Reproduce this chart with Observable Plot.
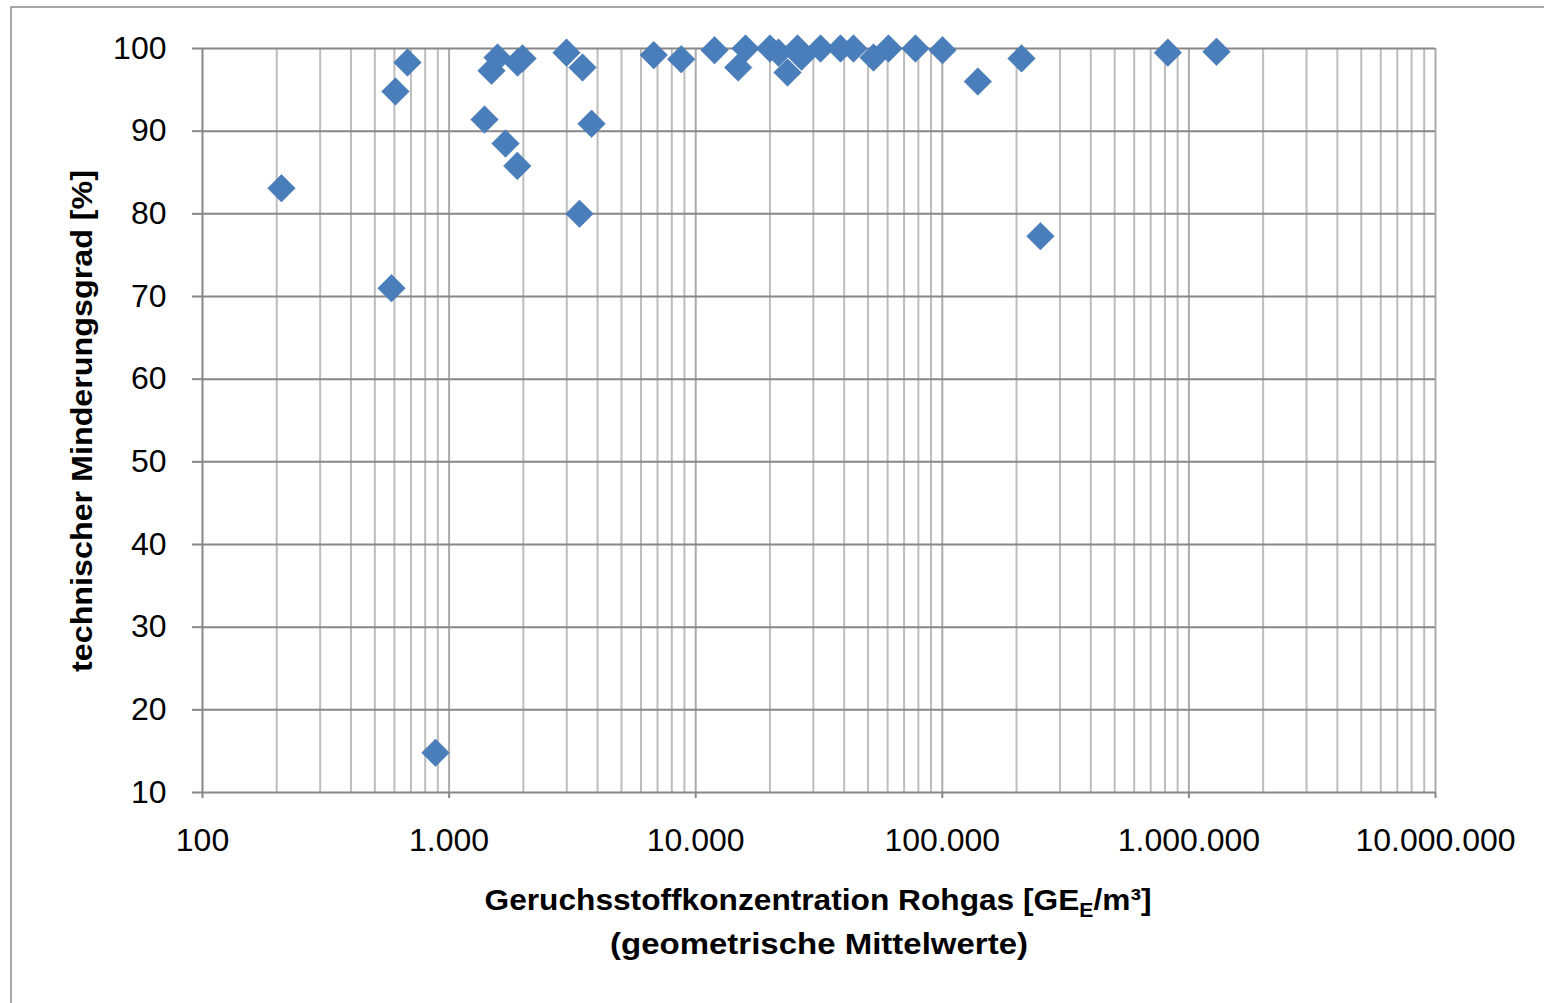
<!DOCTYPE html>
<html><head><meta charset="utf-8">
<script src="https://cdn.jsdelivr.net/npm/d3@7"></script>
<script src="https://cdn.jsdelivr.net/npm/@observablehq/plot@0.6"></script>
<style>
body{margin:0;background:#fff}
#c{position:relative;width:1544px;height:1003px;overflow:hidden}
</style>
</head><body><div id="c"></div>
<script>
// Geruchsstoffkonzentration Rohgas [GE_E/m³] (geometrische Mittelwerte)
const concentration = [209, 584, 606, 678, 881, 1392, 1486, 1572, 1693, 1890, 1895, 1985, 2993, 3475, 3781, 3380,
  6760, 8735, 11920, 15920, 14870, 20000, 21670, 23570, 25870, 26860, 32080, 38660, 43630, 52600, 60510, 77850,
  100200, 139300, 209500, 250000, 821400, 1294000];
// technischer Minderungsgrad [%]
const reduction = [83.1, 71.0, 94.8, 98.3, 14.8, 91.4, 97.3, 98.9, 88.5, 85.8, 98.3, 98.8, 99.5, 97.7, 90.9, 80.0,
  99.2, 98.7, 99.8, 100.0, 97.7, 100.0, 99.5, 97.1, 100.0, 99.0, 100.0, 100.0, 100.0, 98.9, 100.0, 100.0,
  99.8, 96.0, 98.8, 77.3, 99.5, 99.6];
const xTicks = [100, 1000, 10000, 100000, 1000000, 10000000];
const yTicks = [10, 20, 30, 40, 50, 60, 70, 80, 90, 100];
const minorMultipliers = [2, 3, 4, 5, 6, 7, 8, 9];

const xTitle = "Geruchsstoffkonzentration Rohgas [GE";
const xTitleSub = "E";
const xTitleEnd = "/m³]";
const xTitle2 = "(geometrische Mittelwerte)";
const yTitle = "technischer Minderungsgrad [%]";

const minorX = [];
xTicks.slice(0, -1).forEach(d => minorMultipliers.forEach(k => minorX.push(d * k)));
const de = d3.formatLocale({decimal: ",", thousands: ".", grouping: [3], currency: ["", "€"]});
const fmt = de.format(",d");
const data = concentration.map((c, i) => ({c, r: reduction[i]}));

const grid = "#bdbdbd", major = "#878787";
const chart = Plot.plot({
  width: 1544, height: 1003,
  marginLeft: 202, marginRight: 109, marginTop: 48, marginBottom: 211,
  style: {fontFamily: "'Liberation Sans', Arial, sans-serif", fontSize: "32px", color: "#000", background: "#fff", overflow: "visible"},
  x: {type: "log", domain: [100, 1e7]},
  y: {domain: [10, 100]},
  marks: [
    Plot.ruleX(minorX, {stroke: grid, strokeWidth: 2}),
    Plot.ruleX(xTicks.slice(1), {stroke: "#ababab", strokeWidth: 2}),
    Plot.ruleY(yTicks.slice(1), {stroke: major, strokeWidth: 2}),
    Plot.ruleX([100], {stroke: major, strokeWidth: 2}),
    Plot.ruleY([10], {stroke: major, strokeWidth: 2}),
    Plot.axisY({ticks: yTicks, tickSize: 10, tickPadding: 26, label: null, stroke: major, strokeWidth: 2, fill: "#000"}),
    Plot.axisX({ticks: xTicks, tickFormat: fmt, tickSize: 6, tickPadding: 30, label: null, stroke: major, strokeWidth: 2, fill: "#000"}),
    Plot.dot(data, {x: "c", y: "r", symbol: "diamond2", r: 12.4, fill: "#4a7ebb", stroke: "#4477b3", strokeWidth: 0.6})
  ]
});
document.getElementById("c").appendChild(chart);

const svg = d3.select(chart);
svg.append("path").attr("d", "M11,1010V7H1550").attr("fill", "none").attr("stroke", "#8a8a8a").attr("stroke-width", 1.5);
const bold = "'Liberation Sans', Arial, sans-serif";
const t1 = svg.append("text").attr("x", 818).attr("y", 910).attr("text-anchor", "middle")
  .attr("font-family", bold).attr("font-weight", "bold").attr("font-size", 30).attr("fill", "#000")
  .attr("textLength", 667).attr("lengthAdjust", "spacingAndGlyphs");
t1.append("tspan").text(xTitle);
t1.append("tspan").attr("font-size", 20).attr("dy", 7).text(xTitleSub);
t1.append("tspan").attr("dy", -7).text(xTitleEnd);
svg.append("text").attr("x", 819).attr("y", 954).attr("text-anchor", "middle")
  .attr("font-family", bold).attr("font-weight", "bold").attr("font-size", 30).attr("fill", "#000")
  .attr("textLength", 418).attr("lengthAdjust", "spacingAndGlyphs").text(xTitle2);
svg.append("text").attr("transform", "translate(92,421) rotate(-90)").attr("text-anchor", "middle")
  .attr("font-family", bold).attr("font-weight", "bold").attr("font-size", 30).attr("fill", "#000")
  .attr("textLength", 502).attr("lengthAdjust", "spacingAndGlyphs").text(yTitle);
</script>
</body></html>
